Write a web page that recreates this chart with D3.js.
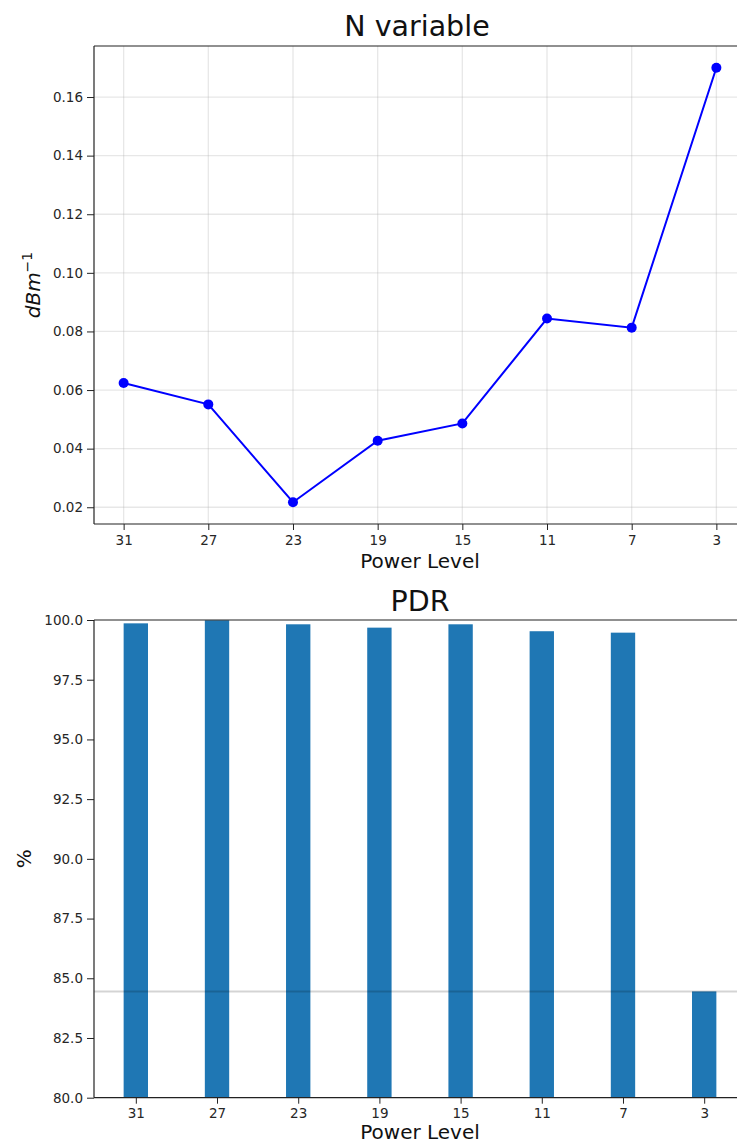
<!DOCTYPE html>
<html>
<head>
<meta charset="utf-8">
<script src="https://cdn.jsdelivr.net/npm/d3@7"></script>
<style>
  html, body { margin: 0; padding: 0; background: #fff; }
  svg { display: block; font-family: "DejaVu Sans", sans-serif; }
</style>
</head>
<body>
<svg id="chart" width="737" height="1144"></svg>
<script>
// ---- data ----
const powerLevels = ["31", "27", "23", "19", "15", "11", "7", "3"];
const nValues = [0.0624, 0.0551, 0.0217, 0.0427, 0.0486, 0.0844, 0.0813, 0.1700];
const pdrValues = [99.86, 99.99, 99.82, 99.68, 99.82, 99.53, 99.47, 84.45];
const nTicks = [0.02, 0.04, 0.06, 0.08, 0.10, 0.12, 0.14, 0.16];
const pdrTicks = [80.0, 82.5, 85.0, 87.5, 90.0, 92.5, 95.0, 97.5, 100.0];

const svg = d3.select("#chart");
const axL = 94, axR = 746;
const tickFont = "13.5px";
const labelFont = "20px";
const titleFont = "28.5px";
const spineColor = "#222";

function styleAxis(g) {
  g.selectAll(".domain").remove();
  g.selectAll(".tick line").attr("stroke", spineColor).attr("stroke-width", 1);
  g.selectAll(".tick text").attr("fill", "#262626").style("font-size", tickFont)
    .style("font-family", "DejaVu Sans, sans-serif");
}

// ================= Top chart: N variable =================
(function () {
  const top = 46, bottom = 524;
  const n = powerLevels.length;
  const x = d3.scaleLinear().domain([-0.35, n - 1 + 0.35]).range([axL, axR]);
  const ext = d3.extent(nValues);
  const pad = (ext[1] - ext[0]) * 0.05;
  const y = d3.scaleLinear().domain([ext[0] - pad, ext[1] + pad]).range([bottom, top]);

  const g = svg.append("g");
  // grid
  g.append("g").selectAll("line.v").data(powerLevels).join("line")
    .attr("x1", (d, i) => x(i)).attr("x2", (d, i) => x(i))
    .attr("y1", top).attr("y2", bottom)
    .attr("stroke", "#b0b0b0").attr("stroke-opacity", 0.3).attr("stroke-width", 1.3);
  g.append("g").selectAll("line.h").data(nTicks).join("line")
    .attr("x1", axL).attr("x2", axR)
    .attr("y1", d => y(d)).attr("y2", d => y(d))
    .attr("stroke", "#b0b0b0").attr("stroke-opacity", 0.3).attr("stroke-width", 1.3);

  // line + markers
  const line = d3.line().x((d, i) => x(i)).y(d => y(d));
  g.append("path").datum(nValues).attr("d", line)
    .attr("fill", "none").attr("stroke", "#0000ff").attr("stroke-width", 2);
  g.append("g").selectAll("circle").data(nValues).join("circle")
    .attr("cx", (d, i) => x(i)).attr("cy", d => y(d)).attr("r", 5)
    .attr("fill", "#0000ff");

  // axes
  const xAxis = d3.axisBottom(x).tickValues(d3.range(n)).tickFormat(i => powerLevels[i])
    .tickSize(6).tickPadding(5);
  g.append("g").attr("transform", `translate(0,${bottom})`).call(xAxis).call(styleAxis);
  const yAxis = d3.axisLeft(y).tickValues(nTicks).tickFormat(d3.format(".2f"))
    .tickSize(7).tickPadding(4);
  g.append("g").attr("transform", `translate(${axL},0)`).call(yAxis).call(styleAxis);

  // spines
  g.append("line").attr("x1", axL).attr("x2", axL).attr("y1", top).attr("y2", bottom)
    .attr("stroke", spineColor).attr("stroke-width", 1.2);
  g.append("line").attr("x1", axL).attr("x2", axR).attr("y1", bottom).attr("y2", bottom)
    .attr("stroke", spineColor).attr("stroke-width", 1.2);
  g.append("line").attr("x1", axL).attr("x2", axR).attr("y1", top).attr("y2", top)
    .attr("stroke", spineColor).attr("stroke-width", 1.2);
  g.append("line").attr("x1", axR).attr("x2", axR).attr("y1", top).attr("y2", bottom)
    .attr("stroke", spineColor).attr("stroke-width", 1.2);

  // title + labels
  g.append("text").attr("x", (axL + axR) / 2 - 3).attr("y", 36).attr("text-anchor", "middle")
    .style("font-size", titleFont).attr("fill", "#111").text("N variable");
  g.append("text").attr("x", (axL + axR) / 2).attr("y", 568).attr("text-anchor", "middle")
    .style("font-size", labelFont).attr("fill", "#111").text("Power Level");
  const yl = g.append("text")
    .attr("transform", `translate(40,${(top + bottom) / 2}) rotate(-90)`)
    .attr("text-anchor", "middle").style("font-size", labelFont).attr("fill", "#111");
  yl.append("tspan").style("font-style", "italic").text("dBm");
  yl.append("tspan").attr("dy", -8).style("font-size", "14px").text("−1");
})();

// ================= Bottom chart: PDR =================
(function () {
  const top = 620, bottom = 1097.7;
  const n = powerLevels.length;
  const barW = 0.3;
  const marg = 0.05 * (n - 1 + barW);
  const x = d3.scaleLinear().domain([-barW / 2 - marg, n - 1 + barW / 2 + marg]).range([axL, axR]);
  const y = d3.scaleLinear().domain([80, 100]).range([bottom, top]);

  const g = svg.append("g");
  const bw = x(barW) - x(0);
  g.append("g").selectAll("rect").data(pdrValues).join("rect")
    .attr("x", (d, i) => x(i) - bw / 2).attr("width", bw)
    .attr("y", d => y(d)).attr("height", d => bottom - y(d))
    .attr("fill", "#1f77b4");

  // horizontal reference line at minimum PDR
  const minPdr = d3.min(pdrValues);
  g.append("line").attr("x1", axL).attr("x2", axR)
    .attr("y1", y(minPdr)).attr("y2", y(minPdr))
    .attr("stroke", "#000").attr("stroke-opacity", 0.17).attr("stroke-width", 2);

  const xAxis = d3.axisBottom(x).tickValues(d3.range(n)).tickFormat(i => powerLevels[i])
    .tickSize(6).tickPadding(5);
  g.append("g").attr("transform", `translate(0,${bottom})`).call(xAxis).call(styleAxis);
  const yAxis = d3.axisLeft(y).tickValues(pdrTicks).tickFormat(d3.format(".1f"))
    .tickSize(7).tickPadding(4);
  g.append("g").attr("transform", `translate(${axL},0)`).call(yAxis).call(styleAxis);

  g.append("line").attr("x1", axL).attr("x2", axL).attr("y1", top).attr("y2", bottom)
    .attr("stroke", spineColor).attr("stroke-width", 1.2);
  g.append("line").attr("x1", axL).attr("x2", axR).attr("y1", bottom).attr("y2", bottom)
    .attr("stroke", spineColor).attr("stroke-width", 1.2);
  g.append("line").attr("x1", axL).attr("x2", axR).attr("y1", top).attr("y2", top)
    .attr("stroke", spineColor).attr("stroke-width", 1.2);

  g.append("text").attr("x", (axL + axR) / 2).attr("y", 611).attr("text-anchor", "middle")
    .style("font-size", titleFont).attr("fill", "#111").text("PDR");
  g.append("text").attr("x", (axL + axR) / 2).attr("y", 1139).attr("text-anchor", "middle")
    .style("font-size", labelFont).attr("fill", "#111").text("Power Level");
  g.append("text")
    .attr("transform", `translate(31,${(top + bottom) / 2}) rotate(-90)`)
    .attr("text-anchor", "middle").style("font-size", labelFont).attr("fill", "#111").text("%");
})();
</script>
</body>
</html>
